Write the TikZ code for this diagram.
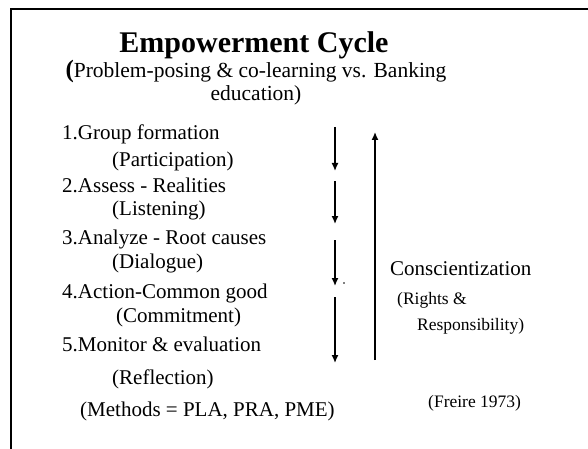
\documentclass[tikz,border=0pt]{standalone}
\usepackage{fontspec}
\setmainfont{Liberation Serif}
\usetikzlibrary{arrows.meta}
\begin{document}
\begin{tikzpicture}[>={Latex[length=8pt,width=7pt]}, x=1pt, y=-1pt,
  step text/.style={anchor=base west, inner sep=0pt, font=\fontsize{21}{25}\selectfont},
  small text/.style={anchor=base west, inner sep=0pt, font=\fontsize{17.5}{21}\selectfont},
  flow/.style={->, line width=1.4pt}]
\useasboundingbox (0,0) rectangle (588,449);
% Frame (top and left edges only)
  \draw[line width=2pt] (588,9) -- (11,9) -- (11,449);

% Title and subtitle
  \node[anchor=base, inner sep=0pt, font=\bfseries\fontsize{30}{34}\selectfont] (title) at (254,53) {Empowerment Cycle};
  \node[anchor=base, inner sep=0pt, font=\fontsize{21.5}{26}\selectfont] (sub1) at (256,78) {{\bfseries\fontsize{25}{26}\selectfont(}Problem-posing \& co-learning vs. Banking};
  \node[anchor=base, inner sep=0pt, font=\fontsize{21.5}{26}\selectfont] (sub2) at (256,101) {education)};

% Steps of the cycle
  \node[step text] (s1) at (62,140) {1.Group formation};
  \node[step text] (s1b) at (112,166) {(Participation)};
  \node[step text] (s2) at (62,192) {2.Assess - Realities};
  \node[step text] (s2b) at (112,215) {(Listening)};
  \node[step text] (s3) at (62,244) {3.Analyze - Root causes};
  \node[step text] (s3b) at (112,268) {(Dialogue)};
  \node[step text] (s4) at (62,298) {4.Action-Common good};
  \node[step text] (s4b) at (116,322) {(Commitment)};
  \node[step text] (s5) at (62,351) {5.Monitor \& evaluation};
  \node[step text] (s5b) at (112,384) {(Reflection)};
  \node[step text] (meth) at (80,416) {(Methods = PLA, PRA, PME)};

% Right side labels
  \node[step text] (consc) at (390,275) {Conscientization};
  \node[small text] (rights) at (397,304) {(Rights \&};
  \node[small text] (resp) at (417,330) {Responsibility)};
  \node[small text] (freire) at (428,407) {(Freire 1973)};

% Arrows: four steps down, one long arrow up
  \coordinate (d1a) at (335,127); \coordinate (d1b) at (335,171);
  \coordinate (d2a) at (335,181); \coordinate (d2b) at (335,224);
  \coordinate (d3a) at (335,240); \coordinate (d3b) at (335,286);
  \coordinate (d4a) at (335,297); \coordinate (d4b) at (335,363);
  \coordinate (upa) at (375,360); \coordinate (upb) at (375,132);
  \draw[flow] (d1a) -- (d1b);
  \draw[flow] (d2a) -- (d2b);
  \draw[flow] (d3a) -- (d3b);
  \draw[flow] (d4a) -- (d4b);
  \draw[flow] (upa) -- (upb);
  \fill (344,283) circle (0.9);
\end{tikzpicture}
\end{document}
